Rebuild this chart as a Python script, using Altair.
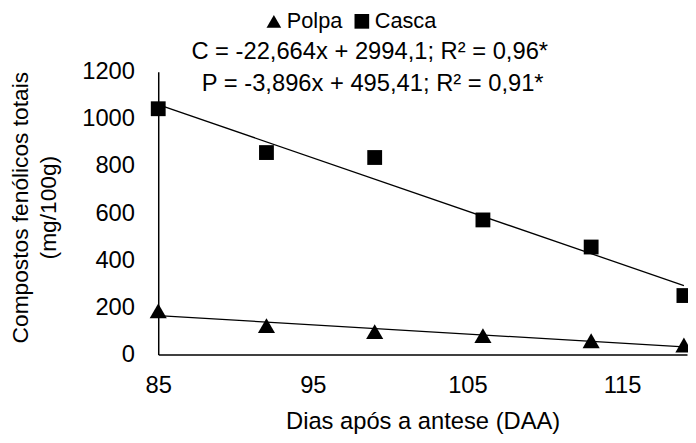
import altair as alt
import pandas as pd

# Data
days = [85, 92, 99, 106, 113, 119]
polpa = [185, 122, 97, 80, 58, 40]
casca = [1043, 857, 836, 571, 456, 250]
series_order = ["Polpa", "Casca"]
x_ticks = [85, 95, 105, 115]
y_ticks = [0, 200, 400, 600, 800, 1000, 1200]
eq_casca = "C = -22,664x + 2994,1; R² = 0,96*"
eq_polpa = "P = -3,896x + 495,41; R² = 0,91*"

df = pd.DataFrame(
    {
        "day": days * 2,
        "value": polpa + casca,
        "serie": ["Polpa"] * len(days) + ["Casca"] * len(days),
    }
)
eq_c_df = pd.DataFrame({"t": [eq_casca]})
eq_p_df = pd.DataFrame({"t": [eq_polpa]})

FONT = "Liberation Sans"
FS = 24

x_enc = alt.X(
    "day:Q",
    scale=alt.Scale(domain=[85, 119.2], nice=False, zero=False),
    axis=alt.Axis(
        title="Dias após a antese (DAA)",
        values=x_ticks,
        labelFlush=False,
        labelPadding=20,
        titleBaseline="middle",
        titleY=68,
    ),
)
y_enc = alt.Y(
    "value:Q",
    scale=alt.Scale(domain=[0, 1200], nice=False),
    axis=alt.Axis(
        title=["Compostos fenólicos totais", "(mg/100g)"],
        values=y_ticks,
        format="d",
        labelFlush=False,
        labelPadding=24,
        titleBaseline="top",
        titleFontSize=23,
        titleX=-150,
        titleY=137,
        titleLineHeight=28,
    ),
)

shape_enc = alt.Shape(
    "serie:N",
    scale=alt.Scale(domain=series_order, range=["triangle-up", "square"]),
    legend=alt.Legend(
        title=None,
        orient="none",
        legendX=106,
        legendY=-62,
        direction="horizontal",
        symbolSize=220,
        symbolFillColor="black",
        symbolStrokeColor="black",
        symbolStrokeWidth=0,
        labelFontSize=22,
        labelFont=FONT,
        labelColor="black",
        labelOffset=2,
        columnPadding=8,
        padding=0,
    ),
)

tri = (
    alt.Chart(df)
    .transform_filter(alt.datum.serie == "Polpa")
    .mark_point(filled=True, size=300, color="black", opacity=1)
    .encode(x=x_enc, y=y_enc, shape=shape_enc)
)
sq = (
    alt.Chart(df)
    .transform_filter(alt.datum.serie == "Casca")
    .mark_point(filled=True, size=225, color="black", opacity=1)
    .encode(x=x_enc, y=y_enc, shape=shape_enc)
)

lines = (
    alt.Chart(df)
    .transform_regression("day", "value", groupby=["serie"], method="linear", extent=[85, 119])
    .mark_line(color="black", strokeWidth=1.3)
    .encode(x="day:Q", y="value:Q", detail="serie:N")
)

txt_c = alt.Chart(eq_c_df).mark_text(
    fontSize=FS, font=FONT, fontWeight="normal", color="black",
    align="center", baseline="middle"
).encode(text="t:N", x=alt.value(214), y=alt.value(-20))
txt_p = alt.Chart(eq_p_df).mark_text(
    fontSize=FS, font=FONT, fontWeight="normal", color="black",
    align="center", baseline="middle"
).encode(text="t:N", x=alt.value(217), y=alt.value(12))

chart = (
    alt.layer(lines, tri, sq, txt_c, txt_p)
    .properties(
        width=535,
        height=286,
        autosize=alt.AutoSizeParams(type="none"),
        padding={"left": 152, "top": 62, "right": 1, "bottom": 79},
    )
    .configure(font=FONT)
    .configure_view(stroke=None)
    .configure_axis(
        grid=False,
        ticks=False,
        domainColor="black",
        domainWidth=1.5,
        labelFont=FONT,
        labelFontSize=FS,
        labelColor="black",
        titleFont=FONT,
        titleFontSize=FS,
        titleFontWeight="normal",
        titleColor="black",
    )
)

chart.save("out.html", embed_options={"renderer": "svg", "actions": False})
